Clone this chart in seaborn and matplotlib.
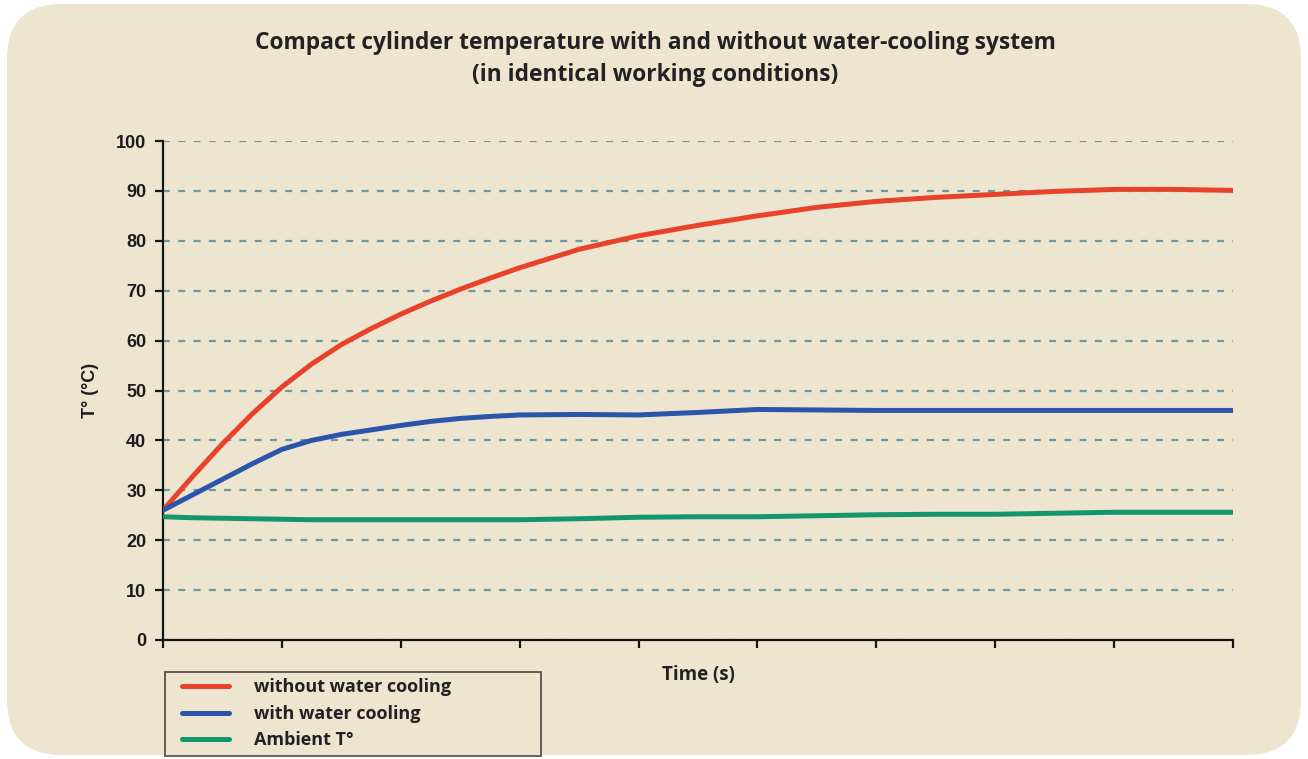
import matplotlib
matplotlib.use("Agg")
import matplotlib.pyplot as plt
from matplotlib.patches import FancyBboxPatch
from matplotlib.legend_handler import HandlerLine2D
import numpy as np
import seaborn as sns
import pandas as pd

# Sampled temperature readings (°C); finer steps where the curves bend most
time_s = [0, 0.25, 0.5, 0.75, 1, 1.25, 1.5, 1.75, 2, 2.25, 2.5, 2.75, 3,
          3.5, 4, 4.5, 5, 5.5, 6, 6.5, 7, 7.5, 8, 8.5, 9]
without_cooling = [26.0, 32.8, 39.3, 45.3, 50.7, 55.3, 59.2, 62.4, 65.3, 67.9, 70.3, 72.5, 74.6,
                   78.3, 81.0, 83.1, 85.0, 86.7, 87.9, 88.7, 89.3, 89.9, 90.3, 90.3, 90.1]
with_cooling = [26.0, 29.1, 32.2, 35.3, 38.2, 40.0, 41.2, 42.1, 43.0, 43.8, 44.4, 44.8, 45.1,
                45.2, 45.1, 45.6, 46.2, 46.1, 46.0, 46.0, 46.0, 46.0, 46.0, 46.0, 46.0]
ambient = [24.7, 24.5, 24.4, 24.3, 24.2, 24.1, 24.1, 24.1, 24.1, 24.1, 24.1, 24.1, 24.1,
           24.3, 24.6, 24.7, 24.7, 24.9, 25.1, 25.2, 25.2, 25.4, 25.6, 25.6, 25.6]

series_names = ["without water cooling", "with water cooling", "Ambient T°"]
series_colors = ["#e8422b", "#2b55a8", "#13966b"]
y_ticks = [0, 10, 20, 30, 40, 50, 60, 70, 80, 90, 100]
x_ticks = [0, 1, 2, 3, 4, 5, 6, 7, 8, 9]

title_text = "Compact cylinder temperature with and without water-cooling system\n(in identical working conditions)"
x_label = "Time (s)"
y_label = "T° (°C)"

df = pd.concat([
    pd.DataFrame({"time": time_s, "temp": vals, "series": name})
    for name, vals in zip(series_names, [without_cooling, with_cooling, ambient])
], ignore_index=True)

sns.set_theme(style="white")
plt.rcParams["lines.scale_dashes"] = False
plt.rcParams["font.family"] = ["Open Sans", "DejaVu Sans"]

BG = "#eee5d1"
W, H = 1308, 759
fig = plt.figure(figsize=(W / 100, H / 100), dpi=100, facecolor="white")

# Rounded beige panel behind everything
panel = FancyBboxPatch((7 / 100, 4 / 100), (W - 14) / 100, (H - 8) / 100,
                       boxstyle="round,pad=0,rounding_size=0.55",
                       transform=fig.dpi_scale_trans, facecolor=BG,
                       edgecolor="none", zorder=-5)
fig.patches.append(panel)

ax = fig.add_axes([163 / W, 1 - 640 / H, (1233 - 163) / W, (640 - 141) / H])
ax.set_facecolor("none")
ax.set_zorder(2)

sns.lineplot(data=df, x="time", y="temp", hue="series", hue_order=series_names,
             palette=series_colors, linewidth=3.6, ax=ax, legend=True,
             solid_capstyle="round", solid_joinstyle="round", zorder=3)

ax.set_xlim(0, 9)
ax.set_ylim(0, 100)
ax.set_xticks(x_ticks)
ax.set_xticklabels([])
ax.set_yticks(y_ticks)
ax.set_yticklabels([str(v) for v in y_ticks], fontfamily="Liberation Sans",
                   fontweight="bold", fontsize=13, color="#1c1c1c")

ax.yaxis.grid(True, color="#6d98a2", linewidth=1.6, linestyle=(0, (5, 6)))
ax.xaxis.grid(False)

for side in ["top", "right"]:
    ax.spines[side].set_visible(False)
for side in ["left", "bottom"]:
    ax.spines[side].set_color("#151515")
    ax.spines[side].set_linewidth(1.6)

ax.tick_params(axis="both", which="major", direction="out", length=6, width=1.6,
               color="#151515", left=True, bottom=True, pad=6)

ax.set_xlabel(x_label, fontsize=13.5, fontweight="bold", color="#222222", labelpad=6)
ax.set_ylabel(y_label, fontfamily="Liberation Sans", fontsize=13, fontweight="bold",
              color="#1c1c1c", labelpad=12)

fig.text(655 / W, 1 - 59 / H, title_text, ha="center", va="center", fontsize=16.4,
         fontweight="bold", color="#222222", linespacing=1.4)


class InsetLineHandler(HandlerLine2D):
    """Legend line that starts a little inside its handle box."""

    def get_xdata(self, legend, xdescent, ydescent, width, height, fontsize):
        x0 = -xdescent + 0.18 * width
        x1 = -xdescent + width
        xdata = np.linspace(x0, x1, self.get_numpoints(legend) + 1)
        return xdata, xdata


handles, labels = ax.get_legend_handles_labels()
leg = ax.legend(handles, labels, loc="upper left",
                bbox_to_anchor=(165 / W, 7 / H, 376 / W, (752 - 672) / H),
                bbox_transform=fig.transFigure, mode="expand", frameon=True,
                fancybox=False, edgecolor="#2e2e2e", facecolor="none",
                prop={"family": ["Open Sans", "DejaVu Sans"], "weight": "bold", "size": 13},
                handlelength=3.2, handletextpad=1.35, labelspacing=0.47, borderpad=0.36,
                borderaxespad=0,
                handler_map={h: InsetLineHandler() for h in handles})
leg.get_frame().set_linewidth(1.3)
for t in leg.get_texts():
    t.set_color("#222222")
for line in leg.get_lines():
    line.set_linewidth(3.6)

fig.savefig("out.png", dpi=100, facecolor="white")
